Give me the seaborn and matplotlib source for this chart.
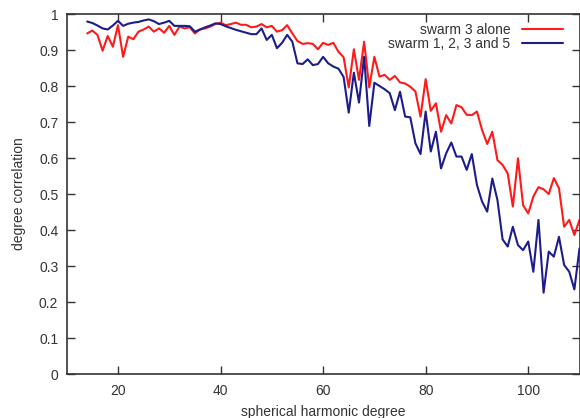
import numpy as np
import pandas as pd
import matplotlib
matplotlib.use("Agg")
import matplotlib.pyplot as plt
import seaborn as sns

degrees = list(range(14, 111))

swarm3_alone = [
    0.946, 0.954, 0.942, 0.898, 0.939, 0.909, 0.969, 0.881, 0.937, 0.930,
    0.951, 0.957, 0.965, 0.951, 0.960, 0.948, 0.967, 0.942, 0.965, 0.960,
    0.963, 0.946, 0.957, 0.960, 0.965, 0.972, 0.976, 0.969, 0.972, 0.976,
    0.970, 0.970, 0.963, 0.965, 0.972, 0.963, 0.967, 0.951, 0.955, 0.969,
    0.946, 0.925, 0.917, 0.919, 0.917, 0.902, 0.920, 0.914, 0.920, 0.895,
    0.880, 0.796, 0.902, 0.817, 0.923, 0.796, 0.881, 0.826, 0.831, 0.817,
    0.828, 0.810, 0.807, 0.798, 0.785, 0.715, 0.819, 0.731, 0.752, 0.673,
    0.719, 0.696, 0.747, 0.741, 0.720, 0.719, 0.729, 0.678, 0.639, 0.673,
    0.594, 0.581, 0.557, 0.465, 0.599, 0.469, 0.446, 0.493, 0.519, 0.513,
    0.500, 0.544, 0.516, 0.409, 0.428, 0.386, 0.428,
]

swarm_1235 = [
    0.979, 0.975, 0.968, 0.960, 0.957, 0.968, 0.981, 0.967, 0.973, 0.976,
    0.978, 0.982, 0.985, 0.980, 0.972, 0.976, 0.981, 0.967, 0.967, 0.967,
    0.966, 0.951, 0.957, 0.963, 0.968, 0.974, 0.972, 0.966, 0.961, 0.956,
    0.952, 0.948, 0.944, 0.944, 0.960, 0.928, 0.942, 0.905, 0.920, 0.942,
    0.923, 0.863, 0.861, 0.874, 0.858, 0.861, 0.881, 0.863, 0.854, 0.848,
    0.825, 0.726, 0.837, 0.754, 0.881, 0.689, 0.809, 0.800, 0.791, 0.780,
    0.733, 0.784, 0.715, 0.713, 0.641, 0.611, 0.729, 0.618, 0.673, 0.571,
    0.613, 0.643, 0.604, 0.604, 0.567, 0.611, 0.525, 0.479, 0.451, 0.543,
    0.483, 0.374, 0.354, 0.409, 0.358, 0.344, 0.368, 0.284, 0.428, 0.226,
    0.340, 0.326, 0.381, 0.303, 0.284, 0.235, 0.349,
]

series_names = ["swarm 3 alone", "swarm 1, 2, 3 and 5"]
series_colors = ["#ff1a1a", "#1c1c8c"]
x_ticks = [20, 40, 60, 80, 100]
y_ticks = [0, 0.1, 0.2, 0.3, 0.4, 0.5, 0.6, 0.7, 0.8, 0.9, 1]
y_tick_labels = ["0", "0.1", "0.2", "0.3", "0.4", "0.5", "0.6", "0.7", "0.8", "0.9", "1"]

df = pd.DataFrame({
    "degree": degrees * 2,
    "corr": swarm3_alone + swarm_1235,
    "series": [series_names[0]] * len(degrees) + [series_names[1]] * len(degrees),
})

FS = 10

sns.set_theme(style="white")
plt.rcParams["font.family"] = ["Liberation Sans", "DejaVu Sans"]
plt.rcParams["font.size"] = FS

fig = plt.figure(figsize=(5.8, 4.18), dpi=100)
ax = fig.add_axes([66.7 / 580, (418 - 374) / 418, (579.5 - 66.7) / 580, 360 / 418])

sns.lineplot(data=df, x="degree", y="corr", hue="series", hue_order=series_names,
             palette=dict(zip(series_names, series_colors)), linewidth=1.5,
             ax=ax, legend=False)

ax.set_xlim(10, 110)
ax.set_ylim(0, 1)
ax.set_xticks(x_ticks)
ax.set_xticklabels([str(t) for t in x_ticks])
ax.set_yticks(y_ticks)
ax.set_yticklabels(y_tick_labels)

edge = "#333333"
for s in ax.spines.values():
    s.set_visible(True)
    s.set_color(edge)
    s.set_linewidth(1.2)

ax.tick_params(axis="both", which="major", direction="in", length=5.5, width=1.0,
               color=edge, labelcolor="#333333", labelsize=FS,
               top=True, right=True, bottom=True, left=True)
ax.tick_params(axis="x", pad=7)
ax.tick_params(axis="y", pad=6)

ax.set_xlabel("spherical harmonic degree", fontsize=FS, color="#333333", labelpad=5)
ax.set_ylabel("degree correlation", fontsize=FS, color="#333333", labelpad=9)
ax.grid(False)

handles = ax.get_lines()[:2]
leg = ax.legend(handles, series_names, loc="upper right", bbox_to_anchor=(0.968, 0.976),
                markerfirst=False, frameon=False, fontsize=FS, handlelength=2.95,
                handletextpad=0.86, labelspacing=0.0, borderpad=0, borderaxespad=0)
for t in leg.get_texts():
    t.set_color("#333333")

fig.savefig("out.png", dpi=100)
